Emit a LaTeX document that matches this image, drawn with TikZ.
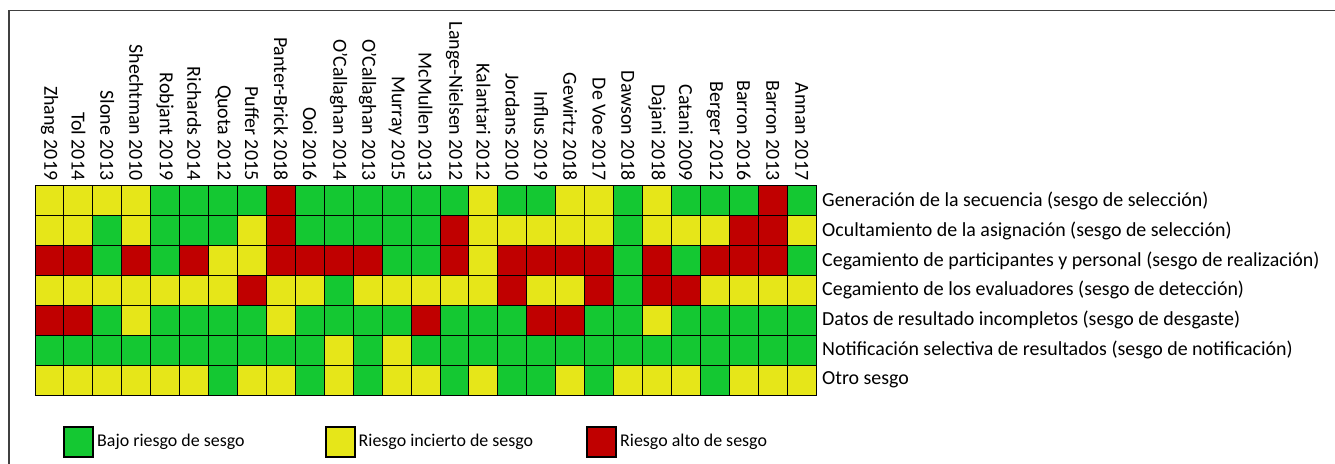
\documentclass[tikz,border=0pt]{standalone}
\usepackage{fontspec}
\setmainfont{Carlito}
\usetikzlibrary{positioning}
\definecolor{G}{RGB}{20,200,50}
\definecolor{Y}{RGB}{230,230,25}
\definecolor{R}{RGB}{192,0,0}
\tikzset{
	cell/.style={draw=black, line width=1bp},
	study/.style={rotate=-90, anchor=east, inner sep=0pt, font=\fontsize{20}{24}\selectfont},
	biasrow/.style={anchor=west, inner sep=0pt, font=\fontsize{20}{24}\selectfont},
	key/.style={draw=black, line width=2bp, minimum width=29bp, minimum height=30bp, inner sep=0pt},
	keytext/.style={right=3bp of #1, inner sep=0pt, font=\fontsize{18}{22}\selectfont}
}
\begin{document}
\begin{tikzpicture}[x=1bp, y=-1bp]
		\useasboundingbox (0,0) rectangle (1335,464);
		\draw [line width=1.5bp, black!75] (9,464) -- (9,10.5) -- (1335,10.5);
		\def\cw{28.93}
		\def\ch{29.9}
		\foreach \name [count=\i] in {Zhang 2019, Tol 2014, Slone 2013, Shechtman 2010, Robjant 2019, Richards 2014, Quota 2012, Puffer 2015, Panter-Brick 2018, Ooi 2016, O'Callaghan 2014, O'Callaghan 2013, Murray 2015, McMullen 2013, Lange-Nielsen 2012, Kalantari 2012, Jordans 2010, Influs 2019, Gewirtz 2018, De Voe 2017, Dawson 2018, Dajani 2018, Catani 2009, Berger 2012, Barron 2016, Barron 2013, Annan 2017}
			\node [study] (s\i) at ({35+\cw*(\i-0.5)},180.5) {\name};
		\foreach \row [count=\j] in {
			{Y,Y,Y,Y,G,G,G,G,R,G,G,G,G,G,G,Y,G,G,Y,Y,G,Y,G,G,G,R,G},
			{Y,Y,G,Y,G,G,G,Y,R,G,G,G,G,G,R,Y,Y,Y,Y,Y,G,Y,Y,Y,R,R,Y},
			{R,R,G,R,G,R,Y,Y,R,R,R,R,G,G,R,Y,R,R,R,R,G,R,G,R,R,R,G},
			{Y,Y,Y,Y,Y,Y,Y,R,Y,Y,G,Y,Y,Y,Y,Y,R,Y,Y,R,G,R,R,Y,Y,Y,Y},
			{R,R,G,Y,G,G,G,G,Y,G,G,G,G,R,G,G,G,R,R,G,G,Y,G,G,G,G,G},
			{G,G,G,G,G,G,G,G,G,G,Y,G,Y,G,G,G,G,G,G,G,G,G,G,G,G,G,G},
			{Y,Y,Y,Y,Y,Y,G,Y,Y,G,Y,G,Y,Y,G,Y,G,G,Y,G,Y,Y,Y,G,Y,Y,Y}}
			\foreach \c [count=\i] in \row
				\draw [cell, fill=\c] ({35+\cw*(\i-1)},{185.7+\ch*(\j-1)}) rectangle ++(\cw,\ch);
		\foreach \txt [count=\j] in {Generación de la secuencia (sesgo de selección), Ocultamiento de la asignación (sesgo de selección), Cegamiento de participantes y personal (sesgo de realización), Cegamiento de los evaluadores (sesgo de detección), Datos de resultado incompletos (sesgo de desgaste), Notificación selectiva de resultados (sesgo de notificación), Otro sesgo}
			\node [biasrow] (d\j) at (822,{185.7+\ch*(\j-0.5)}) {\txt};
		\node [key, fill=G] (k1) at (78.5,442) {};
		\node [key, fill=Y] (k2) at (340,442) {};
		\node [key, fill=R] (k3) at (601.5,442) {};
		\node [keytext=k1] (t1) {Bajo riesgo de sesgo};
		\node [keytext=k2] (t2) {Riesgo incierto de sesgo};
		\node [keytext=k3] (t3) {Riesgo alto de sesgo};
\end{tikzpicture}
\end{document}
